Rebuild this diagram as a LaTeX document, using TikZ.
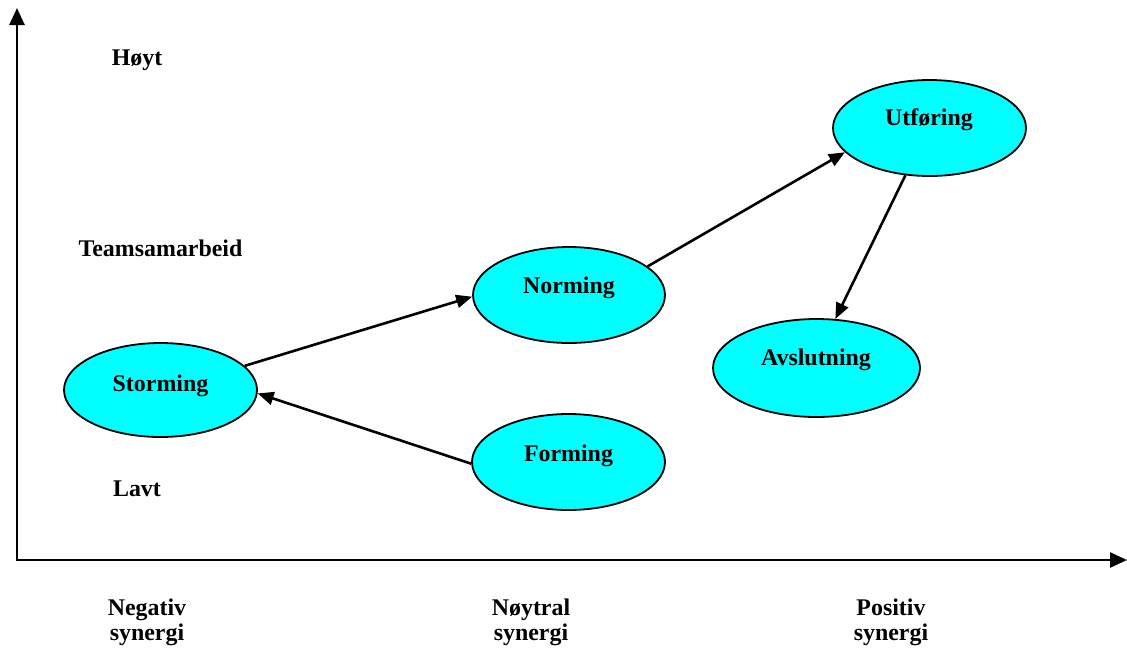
\documentclass[tikz,border=0pt]{standalone}
\usepackage{fontspec}
\setmainfont{Liberation Serif}
\usetikzlibrary{shapes.geometric,arrows.meta}
\definecolor{phasefill}{RGB}{0,255,255}
\begin{document}
\begin{tikzpicture}[x=1pt,y=-1pt,
  stage/.style={ellipse,draw=black,line width=1.8pt,fill=phasefill,inner sep=0pt},
  lbl/.style={font=\bfseries\fontsize{23.9}{25}\selectfont,inner sep=0pt,anchor=base},
  axis/.style={line width=2.6pt,-{Triangle[length=17pt,width=15pt]}},
  flow/.style={line width=2.6pt,-{Triangle[length=16pt,width=13pt]}}]
\useasboundingbox (0,0) rectangle (1127,649);
% axes
\coordinate (origin) at (17,560);
\coordinate (ytop) at (17,8);
\coordinate (xend) at (1127,560);
\draw[axis] ([yshift=-1.3pt]origin) -- (ytop);
\draw[axis] ([xshift=-1.3pt]origin) -- (xend);
% team phases
\node[stage,minimum width=193pt,minimum height=94pt] (storm) at (160.5,390) {};
\node[stage,minimum width=192pt,minimum height=96pt] (norm) at (569,295) {};
\node[stage,minimum width=193pt,minimum height=96pt] (utf) at (929.5,128) {};
\node[stage,minimum width=207pt,minimum height=98pt] (avs) at (816.5,368) {};
\node[stage,minimum width=193pt,minimum height=96pt] (form) at (568.5,462) {};
\node[lbl] (stormT) at (160.5,391) {Storming};
\node[lbl] (normT) at (569,293) {Norming};
\node[lbl] (utfT) at (929,125) {Utføring};
\node[lbl] (avsT) at (816,365) {Avslutning};
\node[lbl] (formT) at (568.5,461.5) {Forming};
% transitions
\draw[flow] (storm.16) -- (norm.181);
\draw[flow] (form.181) -- (storm.358);
\draw[flow] (norm.20) -- (utf.196);
\draw[flow] (utf.243) -- (avs.69);
% vertical axis labels
\node[lbl] (hoyt) at (137,65) {Høyt};
\node[lbl] (team) at (160.5,256) {Teamsamarbeid};
\node[lbl] (lavt) at (137,496) {Lavt};
% horizontal axis labels
\node[lbl] (neg1) at (147,615) {Negativ};
\node[lbl] (neg2) at (147,640) {synergi};
\node[lbl] (noy1) at (531,615) {Nøytral};
\node[lbl] (noy2) at (531,640) {synergi};
\node[lbl] (pos1) at (891,615) {Positiv};
\node[lbl] (pos2) at (891,640) {synergi};
\end{tikzpicture}
\end{document}
